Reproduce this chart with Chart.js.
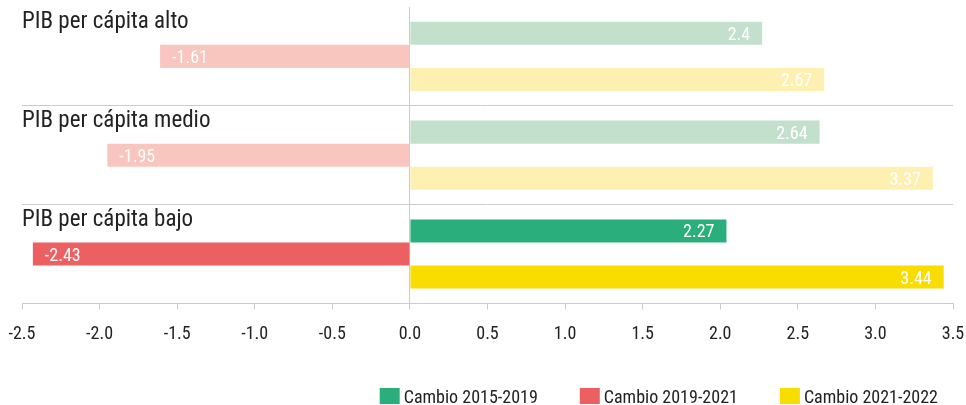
<!DOCTYPE html>
<html>
<head>
<meta charset="utf-8">
<script src="https://cdn.jsdelivr.net/npm/chart.js@4"></script>
<style>
  html, body { margin: 0; padding: 0; background: #fff; }
  #wrap { width: 966px; height: 405px; }
</style>
</head>
<body>
<div id="wrap"><canvas id="pibChart"></canvas></div>
<script>
const FONT = "'Roboto Condensed', Roboto, sans-serif";

// categorías (grupos de PIB)
const grupos = ["PIB per cápita alto", "PIB per cápita medio", "PIB per cápita bajo"];
const series = ["Cambio 2015-2019", "Cambio 2019-2021", "Cambio 2021-2022"];

// longitudes de barra
const cambio1519 = [2.27, 2.64, 2.04];
const cambio1921 = [-1.61, -1.95, -2.43];
const cambio2122 = [2.67, 3.37, 3.44];

// etiquetas que aparecen dentro de las barras
const etiq1519 = ["2.4", "2.64", "2.27"];
const etiq1921 = ["-1.61", "-1.95", "-2.43"];
const etiq2122 = ["2.67", "3.37", "3.44"];

// ticks del eje x
const xMin = -2.5;
const xMax = 3.5;
const xStep = 0.5;

const colores = {
  fuerte: ["#2AAE7B", "#EC6061", "#F9DC00"],
  suave: ["#C2E0CC", "#F8C6BE", "#FDF0B1"]
};

// solo el último grupo va en color pleno
function coloresSerie(i) {
  return grupos.map((g, j) => j === grupos.length - 1 ? colores.fuerte[i] : colores.suave[i]);
}

const etiquetas = [etiq1519, etiq1921, etiq2122];

// texto blanco dentro de cada barra
const valoresPlugin = {
  id: "valores",
  afterDatasetsDraw(chart) {
    const ctx = chart.ctx;
    ctx.save();
    ctx.font = "18px " + FONT;
    ctx.fillStyle = "#ffffff";
    ctx.textBaseline = "alphabetic";
    chart.data.datasets.forEach((ds, i) => {
      const meta = chart.getDatasetMeta(i);
      meta.data.forEach((bar, j) => {
        const v = ds.data[j];
        if (v >= 0) {
          ctx.textAlign = "right";
          ctx.fillText(etiquetas[i][j], bar.x - 12, bar.y + 6.5);
        } else {
          ctx.textAlign = "left";
          ctx.fillText(etiquetas[i][j], bar.x + 12, bar.y + 6.5);
        }
      });
    });
    ctx.restore();
  }
};

// nombres de grupo arriba a la izquierda de cada bloque
const gruposPlugin = {
  id: "grupos",
  afterDraw(chart) {
    const ctx = chart.ctx;
    const y = chart.scales.y;
    ctx.save();
    ctx.font = "23px " + FONT;
    ctx.fillStyle = "#222222";
    ctx.textAlign = "left";
    ctx.textBaseline = "alphabetic";
    grupos.forEach((g, j) => {
      ctx.fillText(g, chart.chartArea.left, y.getPixelForValue(j) - 28);
    });
    ctx.restore();
  }
};

// leyenda abajo a la derecha, cuadros 20x16 pegados al texto
const leyendaPlugin = {
  id: "leyenda",
  afterDraw(chart) {
    const ctx = chart.ctx;
    ctx.save();
    ctx.font = "18px " + FONT;
    ctx.textAlign = "left";
    ctx.textBaseline = "alphabetic";
    const caja = 20, hueco = 4, sep = 42;
    const anchos = series.map(s => ctx.measureText(s).width);
    const total = anchos.reduce((a, w) => a + caja + hueco + w, 0) + sep * (series.length - 1);
    let x = chart.chartArea.right - 15 - total;
    const yBase = chart.height - 2;
    series.forEach((s, i) => {
      ctx.fillStyle = colores.fuerte[i];
      ctx.fillRect(x, yBase - 15, caja, 16);
      ctx.fillStyle = "#222222";
      ctx.fillText(s, x + caja + hueco, yBase);
      x += caja + hueco + anchos[i] + sep;
    });
    ctx.restore();
  }
};

new Chart(document.getElementById("pibChart"), {
  type: "bar",
  data: {
    labels: grupos,
    datasets: [
      { label: series[0], data: cambio1519, backgroundColor: coloresSerie(0) },
      { label: series[1], data: cambio1921, backgroundColor: coloresSerie(1) },
      { label: series[2], data: cambio2122, backgroundColor: coloresSerie(2) }
    ]
  },
  options: {
    indexAxis: "y",
    responsive: true,
    maintainAspectRatio: false,
    animation: false,
    datasets: {
      bar: {
        barPercentage: 1,
        categoryPercentage: 0.7,
        borderWidth: 0
      }
    },
    layout: {
      autoPadding: false,
      padding: { top: 7, left: 22, right: 13, bottom: 46 }
    },
    plugins: {
      tooltip: { enabled: false },
      legend: { display: false }
    },
    scales: {
      x: {
        min: xMin,
        max: xMax,
        border: { display: true, color: "#cccccc" },
        grid: {
          color: ctx => (ctx.tick && ctx.tick.value === 0 ? "#cccccc" : "transparent"),
          tickColor: "#cccccc",
          tickLength: 6
        },
        ticks: {
          stepSize: xStep,
          padding: 14,
          color: "#222",
          font: { size: 18, family: FONT },
          maxRotation: 0,
          callback: v => Number(v).toFixed(1)
        },
        // las etiquetas extremas caben en el margen, sin recortar el área
        afterFit(scale) {
          scale.paddingLeft = 0;
          scale.paddingRight = 0;
        }
      },
      y: {
        offset: true,
        border: { display: false },
        grid: {
          offset: true,
          drawTicks: false,
          color: ctx => (ctx.index === 0 ? "transparent" : "#cccccc")
        },
        ticks: { display: false }
      }
    }
  },
  plugins: [valoresPlugin, gruposPlugin, leyendaPlugin]
});
</script>
</body>
</html>
